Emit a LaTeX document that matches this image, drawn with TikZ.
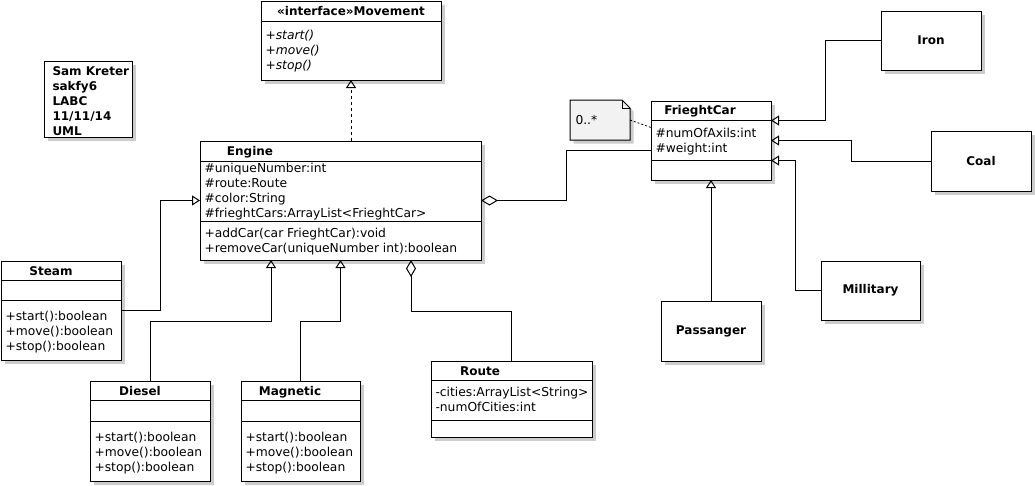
\documentclass[tikz,border=0pt]{standalone}
\usepackage{fontspec}
\setmainfont{DejaVu Sans}
\usetikzlibrary{arrows.meta,shadows}
\newcommand{\umlfont}{\fontsize{12.3}{15}\selectfont}
\newcommand{\umlbold}{\fontsize{12}{15}\selectfont\bfseries}

\begin{document}
\begin{tikzpicture}[x=1pt,y=-1pt,line width=1pt,
  box/.style={draw,fill=white,inner sep=0pt,outer sep=0pt,anchor=north west,
    drop shadow={shadow xshift=3.5pt,shadow yshift=-3.5pt,fill=black!20,opacity=1}},
  title/.style={font=\umlbold,inner sep=0pt,anchor=base},
  members/.style={font=\umlfont,align=left,inner sep=0pt,anchor=north west},
  inherit/.style={-{Triangle[open,length=8pt,width=10pt]}},
  aggr/.style={-{Diamond[open,length=17pt,width=10pt]}},
  realize/.style={inherit,dash pattern=on 3pt off 3pt}]
	\useasboundingbox (0,0) rectangle (1035,485);
	%% author note
	\node[box,minimum width=88pt,minimum height=76pt] (sam) at (44,61) {};
	\node[members,font=\umlbold] (samtxt) at (52,64.5) {\strut Sam Kreter\\sakfy6\\LABC\\11/11/14\\UML};
	%% interface
	\node[box,minimum width=180pt,minimum height=79pt] (movement) at (261,1) {};
	\draw ([yshift=-20pt]movement.north west) -- ([yshift=-20pt]movement.north east);
	\node[title] (movementname) at (351,15) {«interface»Movement};
	\node[members,font=\umlfont\itshape] (movementops) at (265,28.5) {\strut+start()\\+move()\\+stop()};
	%% engine
	\node[box,minimum width=281pt,minimum height=119pt] (engine) at (200,141) {};
	\draw ([yshift=-20pt]engine.north west) -- ([yshift=-20pt]engine.north east);
	\draw ([yshift=-80pt]engine.north west) -- ([yshift=-80pt]engine.north east);
	\node[title] (enginename) at (250,155) {Engine};
	\node[members] (engineattr) at (204,161.5) {\strut\#uniqueNumber:int\\\#route:Route\\\#color:String\\\#frieghtCars:ArrayList<FrieghtCar>};
	\node[members] (engineops) at (204,226.5) {\strut+addCar(car FrieghtCar):void\\+removeCar(uniqueNumber int):boolean};
	%% engine kinds
	\node[box,minimum width=120pt,minimum height=99pt] (steam) at (1,261) {};
	\draw ([yshift=-19pt]steam.north west) -- ([yshift=-19pt]steam.north east);
	\draw ([yshift=-39pt]steam.north west) -- ([yshift=-39pt]steam.north east);
	\node[title] (steamname) at (51,275) {Steam};
	\node[members] (steamops) at (5,309.5) {\strut+start():boolean\\+move():boolean\\+stop():boolean};
	\node[box,minimum width=120pt,minimum height=100pt] (diesel) at (90,381) {};
	\draw ([yshift=-19pt]diesel.north west) -- ([yshift=-19pt]diesel.north east);
	\draw ([yshift=-40pt]diesel.north west) -- ([yshift=-40pt]diesel.north east);
	\node[title] (dieselname) at (140,395) {Diesel};
	\node[members] (dieselops) at (94,430) {\strut+start():boolean\\+move():boolean\\+stop():boolean};
	\node[box,minimum width=119pt,minimum height=100pt] (magnetic) at (241,381) {};
	\draw ([yshift=-19pt]magnetic.north west) -- ([yshift=-19pt]magnetic.north east);
	\draw ([yshift=-40pt]magnetic.north west) -- ([yshift=-40pt]magnetic.north east);
	\node[title] (magneticname) at (290,395) {Magnetic};
	\node[members] (magneticops) at (245,430) {\strut+start():boolean\\+move():boolean\\+stop():boolean};
	%% route
	\node[box,minimum width=161pt,minimum height=76pt] (route) at (431,361) {};
	\draw ([yshift=-19pt]route.north west) -- ([yshift=-19pt]route.north east);
	\draw ([yshift=-59pt]route.north west) -- ([yshift=-59pt]route.north east);
	\node[title] (routename) at (480,375) {Route};
	\node[members] (routeattr) at (435,385.5) {\strut-cities:ArrayList<String>\\-numOfCities:int};
	%% freight cars
	\node[box,minimum width=120pt,minimum height=79pt] (frieght) at (651,101) {};
	\draw ([yshift=-19pt]frieght.north west) -- ([yshift=-19pt]frieght.north east);
	\draw ([yshift=-59pt]frieght.north west) -- ([yshift=-59pt]frieght.north east);
	\node[title] (frieghtname) at (700,114) {FrieghtCar};
	\node[members] (frieghtattr) at (655,126.5) {\strut\#numOfAxils:int\\\#weight:int};
	\node[box,font=\umlbold,minimum width=100pt,minimum height=59pt] (iron) at (881,11) {Iron};
	\node[box,font=\umlbold,minimum width=100pt,minimum height=60pt] (coal) at (931,131) {Coal};
	\node[box,font=\umlbold,minimum width=99pt,minimum height=59pt] (millitary) at (821,261) {Millitary};
	\node[box,font=\umlbold,minimum width=100pt,minimum height=60pt] (passanger) at (661,301) {Passanger};
	%% multiplicity note
	\node[inner sep=0pt,outer sep=0pt,minimum width=60pt,minimum height=40pt,anchor=north west] (multbox) at (570,100) {};
	\draw[fill=black!5,drop shadow={shadow xshift=3.5pt,shadow yshift=-3.5pt,fill=black!20,opacity=1}]
	  (multbox.north west) -- ([xshift=-8pt]multbox.north east) -- ([yshift=-8pt]multbox.north east)
	  -- (multbox.south east) -- (multbox.south west) -- cycle;
	\draw ([xshift=-8pt]multbox.north east) |- ([yshift=-8pt]multbox.north east);
	\node[font=\umlfont,inner sep=0pt,anchor=base west] (mult) at (575,124) {0..*};
	%% connectors
	\draw[realize] (movement.south |- engine.north) -- (movement.south);
	\draw[inherit] (steam.east) -- ++(39,0) |- (engine.west);
	\draw[inherit] (diesel.north) -- ++(0,-60) -| ([xshift=71pt]engine.south west);
	\draw[inherit] (magnetic.north) -- ++(0,-60) -| (engine.south);
	\draw[aggr] (route.north) -- ++(0,-50) -| ([xshift=211pt]engine.south west);
	\draw[aggr] ([yshift=-10pt]frieght.west) -- ++(-85,0) |- (engine.east);
	\draw[dash pattern=on 2pt off 2pt,line width=0.8pt] (multbox.east) -- ([yshift=13pt]frieght.west);
	\draw[inherit] (iron.west) -- ++(-56,0) |- ([yshift=20pt]frieght.east);
	\draw[inherit] (coal.west) -- ++(-80,0) |- (frieght.east);
	\draw[inherit] (millitary.west) -- ++(-26,0) |- ([yshift=-20pt]frieght.east);
	\draw[inherit] (passanger.north) -- (frieght.south);
\end{tikzpicture}
\end{document}
